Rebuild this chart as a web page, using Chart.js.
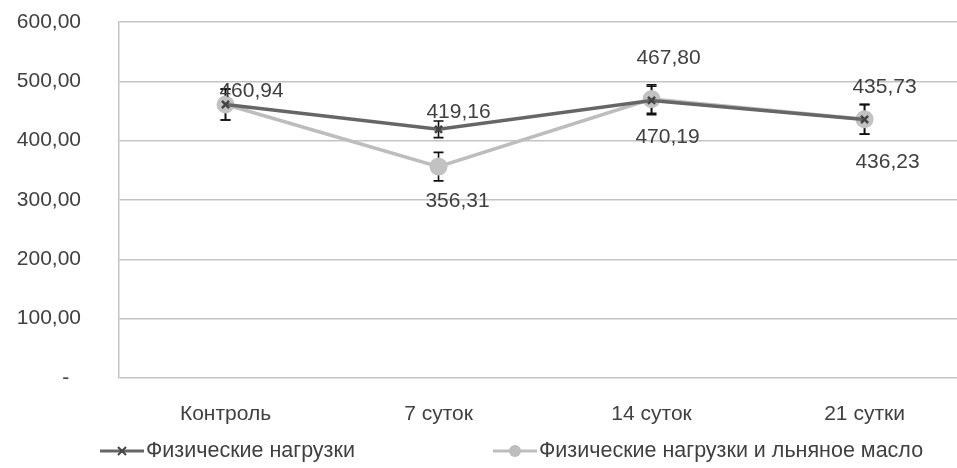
<!DOCTYPE html>
<html>
<head>
<meta charset="utf-8">
<script src="https://cdn.jsdelivr.net/npm/chart.js@4"></script>
<style>
  body { margin: 0; background: #fff; }
  #wrap { width: 957px; height: 468px; }
</style>
</head>
<body>
<div id="wrap"><canvas id="myChart"></canvas></div>
<script>
// Data
const categories = ['Контроль', '7 суток', '14 суток', '21 сутки'];
const loadValues = [460.94, 419.16, 467.80, 435.73];
const loadOilValues = [460.94, 356.31, 470.19, 436.23];
const loadErrors = [26, 14, 24, 25];
const loadOilErrors = [26, 24, 24, 25];
const yTicks = [0, 100, 200, 300, 400, 500, 600];
const seriesNames = ['Физические нагрузки', 'Физические нагрузки и льняное масло'];

// where the value labels sit relative to their point (null = no label)
const loadLabelShift = [[26, -13], [20, -17], [17, -42], [20, -32]];
const loadOilLabelShift = [null, [19, 35], [16, 38], [23, 43]];

const FONT = '"Liberation Sans", Arial, sans-serif';
const TEXT = '#404040';
const dark = '#666666';
const light = '#bdbdbd';

const fmt = v => v.toFixed(2).replace('.', ',');

// error bars, drawn under the markers
const errorBars = {
  id: 'errorBars',
  beforeDatasetsDraw(chart) {
    const ctx = chart.ctx;
    const y = chart.scales.y;
    ctx.save();
    ctx.strokeStyle = '#111';
    ctx.lineWidth = 1.6;
    chart.data.datasets.forEach((ds, di) => {
      chart.getDatasetMeta(di).data.forEach((pt, i) => {
        const v = ds.data[i].y, e = ds.errors[i];
        const top = y.getPixelForValue(v + e), bot = y.getPixelForValue(v - e);
        ctx.beginPath();
        ctx.moveTo(pt.x, top); ctx.lineTo(pt.x, bot);
        ctx.moveTo(pt.x - 5, top); ctx.lineTo(pt.x + 5, top);
        ctx.moveTo(pt.x - 5, bot); ctx.lineTo(pt.x + 5, bot);
        ctx.stroke();
      });
    });
    ctx.restore();
  }
};

// value labels
const valueLabels = {
  id: 'valueLabels',
  afterDatasetsDraw(chart) {
    const ctx = chart.ctx;
    ctx.save();
    ctx.font = '21px ' + FONT;
    ctx.fillStyle = TEXT;
    ctx.textAlign = 'center';
    ctx.textBaseline = 'middle';
    chart.data.datasets.forEach((ds, di) => {
      chart.getDatasetMeta(di).data.forEach((pt, i) => {
        const s = ds.labelShift[i];
        if (!s) return;
        ctx.fillText(fmt(ds.data[i].y), pt.x + s[0], pt.y + s[1]);
      });
    });
    ctx.restore();
  }
};

// Excel-like legend: line with marker, then name
const bottomLegend = {
  id: 'bottomLegend',
  afterDraw(chart) {
    const ctx = chart.ctx;
    const items = [
      { x: 100, color: dark, marker: 'cross', name: seriesNames[0] },
      { x: 493, color: light, marker: 'circle', name: seriesNames[1] }
    ];
    const cy = 451;
    ctx.save();
    items.forEach(it => {
      ctx.strokeStyle = it.color;
      ctx.lineWidth = 3;
      ctx.beginPath();
      ctx.moveTo(it.x, cy); ctx.lineTo(it.x + 44, cy);
      ctx.stroke();
      const mx = it.x + 22;
      if (it.marker === 'circle') {
        ctx.fillStyle = it.color;
        ctx.beginPath(); ctx.arc(mx, cy, 6, 0, Math.PI * 2); ctx.fill();
      } else {
        ctx.strokeStyle = '#444';
        ctx.lineWidth = 2;
        ctx.beginPath();
        ctx.moveTo(mx - 4, cy - 4); ctx.lineTo(mx + 4, cy + 4);
        ctx.moveTo(mx + 4, cy - 4); ctx.lineTo(mx - 4, cy + 4);
        ctx.stroke();
      }
      ctx.font = '21.5px ' + FONT;
      ctx.fillStyle = TEXT;
      ctx.textAlign = 'left';
      ctx.textBaseline = 'middle';
      ctx.fillText(it.name, it.x + 46, cy);
    });
    ctx.restore();
  }
};

const ctx = document.getElementById('myChart');

new Chart(ctx, {
  type: 'line',
  data: {
    datasets: [
      {
        label: seriesNames[0],
        data: loadValues.map((v, i) => ({ x: i, y: v })),
        errors: loadErrors,
        labelShift: loadLabelShift,
        borderColor: dark,
        borderWidth: 3.5,
        pointStyle: 'crossRot',
        pointRadius: 5,
        pointBorderWidth: 2.5,
        pointBorderColor: '#444',
        pointBackgroundColor: '#444',
        tension: 0
      },
      {
        label: seriesNames[1],
        data: loadOilValues.map((v, i) => ({ x: i, y: v })),
        errors: loadOilErrors,
        labelShift: loadOilLabelShift,
        borderColor: light,
        borderWidth: 3.5,
        pointStyle: 'circle',
        pointRadius: 9,
        pointBorderWidth: 0,
        pointBackgroundColor: '#c2c2c2',
        tension: 0
      }
    ]
  },
  options: {
    responsive: true,
    maintainAspectRatio: false,
    animation: false,
    layout: { autoPadding: false, padding: { top: 22, right: 0, bottom: 30, left: 0 } },
    plugins: {
      legend: { display: false },
      tooltip: { enabled: false }
    },
    scales: {
      x: {
        type: 'linear',
        min: -0.5,
        max: 3.434,
        afterBuildTicks: axis => { axis.ticks = categories.map((c, i) => ({ value: i })); },
        afterFit: axis => {
          axis.height = 60;
          axis.paddingLeft = 0;
          axis.paddingRight = 0;
        },
        grid: { drawOnChartArea: false, drawTicks: true, tickLength: 24, tickColor: 'rgba(0,0,0,0)' },
        border: { display: false },
        ticks: {
          padding: 0,
          maxRotation: 0,
          color: TEXT,
          font: { family: FONT, size: 21 },
          callback: v => categories[v]
        }
      },
      y: {
        min: 0,
        max: 600,
        afterBuildTicks: axis => { axis.ticks = yTicks.map(v => ({ value: v })); },
        afterFit: axis => { axis.width = 119; },
        grid: { color: '#c4c4c4', lineWidth: 1.5, drawTicks: true, tickLength: 38, tickColor: 'rgba(0,0,0,0)' },
        border: { display: true, color: '#c4c4c4', width: 1.5 },
        ticks: {
          padding: 0,
          color: TEXT,
          font: { family: FONT, size: 21 },
          callback: v => v === 0 ? '-  ' : fmt(v)
        }
      }
    }
  },
  plugins: [errorBars, valueLabels, bottomLegend]
});
</script>
</body>
</html>
